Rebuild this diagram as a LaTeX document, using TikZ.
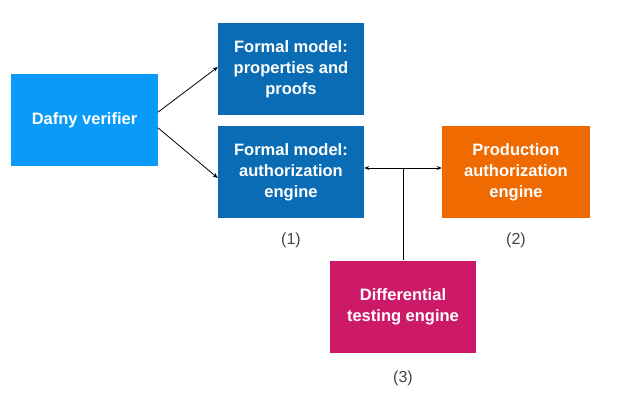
\documentclass[tikz,border=0pt]{standalone}
\usepackage{fontspec}
\setmainfont{Liberation Sans}
\usetikzlibrary{arrows.meta}
\definecolor{dafnyblue}{HTML}{0A9BFA}
\definecolor{modelblue}{HTML}{0A6CB4}
\definecolor{prodorange}{HTML}{EF6A00}
\definecolor{testpink}{HTML}{CD1A68}
\definecolor{labelgray}{HTML}{444444}
\tikzset{
  block/.style={fill=#1, text=white, font=\fontsize{16.5}{21}\selectfont\bfseries, align=center,
    minimum width=146pt, minimum height=92pt, inner sep=0pt},
  tag/.style={text=labelgray, font=\fontsize{16}{18}\selectfont},
  link/.style={draw=black, line width=0.8pt, -{Stealth[length=5pt,width=4pt]}}
}
\begin{document}
\begin{tikzpicture}[x=1pt,y=-1pt]
    \useasboundingbox (0,0) rectangle (641,400);

    % boxes
    \node[block=dafnyblue, minimum width=147pt] (dafny) at (84.5,120) {Dafny verifier};
    \node[block=modelblue] (props) at (291,69) {Formal model:\\properties and\\proofs};
    \node[block=modelblue] (authz) at (291,172) {Formal model:\\authorization\\engine};
    \node[block=prodorange, minimum width=148pt] (prod) at (516,172) {Production\\authorization\\engine};
    \node[block=testpink] (diff) at (403,306.5) {Differential\\testing engine};

    % labels
    \node[tag] (tagone) at (291,240) {(1)};
    \node[tag] (tagtwo) at (516,240) {(2)};
    \node[tag] (tagthree) at (403,378) {(3)};

    % lines
    \draw[link] ([yshift=8pt]dafny.east) -- ([yshift=2pt]props.west);
    \draw[link] ([yshift=-8pt]dafny.east) -- ([yshift=-6pt]authz.west);
    \draw[link, {Stealth[length=5pt,width=4pt]}-{Stealth[length=5pt,width=4pt]}]
      ([yshift=4pt]authz.east) -- coordinate (split) ([yshift=4pt]prod.west);
    \draw[line width=0.8pt] (split -| diff.north) -- (diff.north);
  \end{tikzpicture}
\end{document}
